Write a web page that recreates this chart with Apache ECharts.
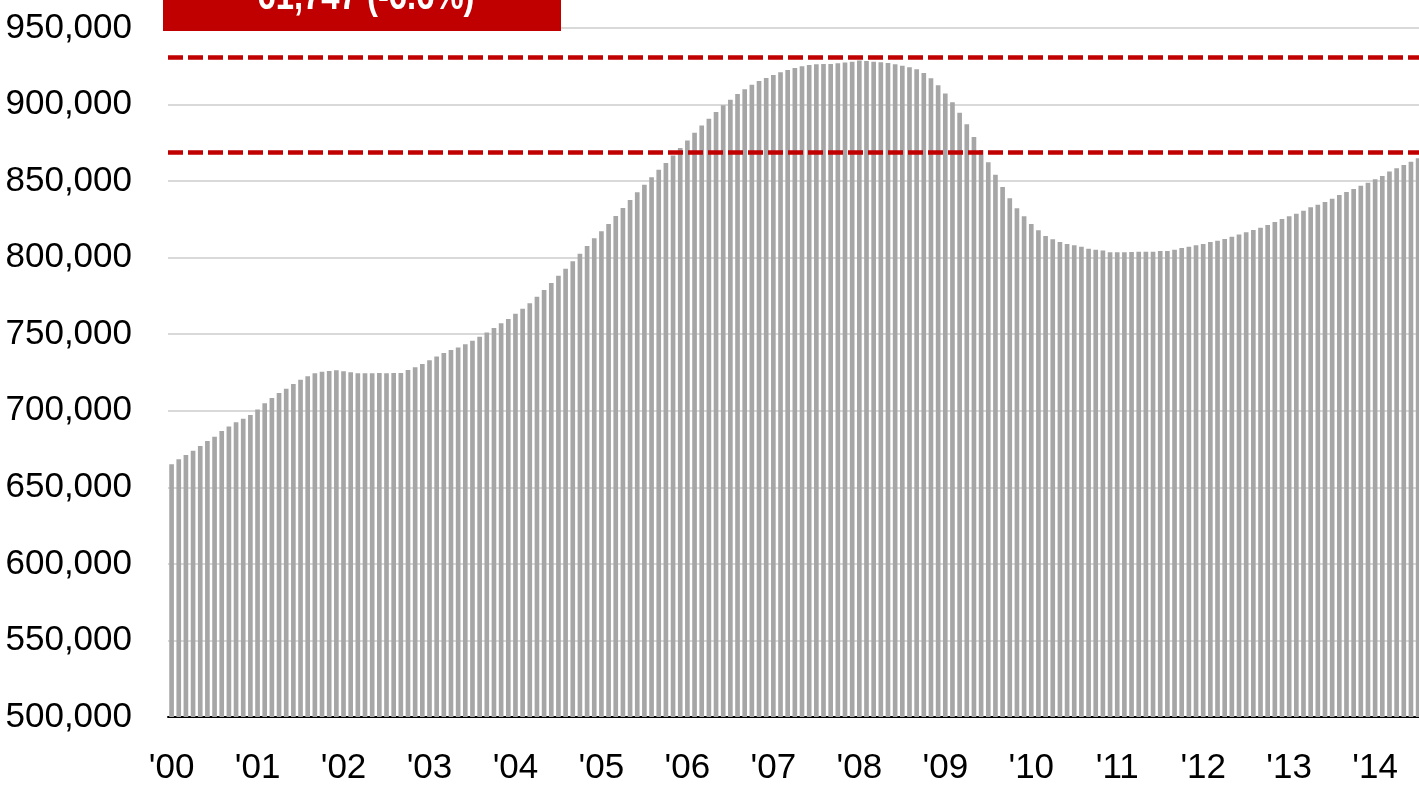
<!DOCTYPE html>
<html>
<head>
<meta charset="utf-8">
<title>Monthly bars 2000-2014</title>
<script src="https://cdn.jsdelivr.net/npm/echarts@6/dist/echarts.min.js"></script>
<style>
  html, body { margin: 0; padding: 0; background: #fff; }
  #main { width: 1419px; height: 785px; }
</style>
</head>
<body>
<div id="main"></div>
<script>
// tick labels for the category axis (one per January)
var yearLabels = ["'00", "'01", "'02", "'03", "'04", "'05", "'06", "'07", "'08", "'09", "'10", "'11", "'12", "'13", "'14"];

// monthly values (thousands)
var v2000 = [665.0, 668.3, 671.1, 673.9, 677.0, 680.3, 683.1, 686.8, 689.8, 692.5, 694.8, 697.2];
var v2001 = [700.9, 704.9, 708.3, 711.6, 714.4, 717.5, 720.3, 722.5, 724.5, 725.5, 726.0, 726.4];
var v2002 = [725.8, 725.1, 724.5, 724.5, 724.5, 724.7, 724.5, 724.7, 724.7, 726.6, 728.4, 730.5];
var v2003 = [733.0, 735.5, 737.7, 739.7, 741.4, 743.4, 745.8, 748.4, 751.2, 754.1, 757.1, 759.9];
var v2004 = [763.4, 766.7, 770.2, 774.5, 778.9, 783.5, 788.2, 792.8, 797.6, 802.6, 807.6, 812.6];
var v2005 = [817.2, 822.0, 827.2, 832.4, 837.7, 842.7, 847.7, 852.5, 857.5, 861.8, 866.8, 871.6];
var v2006 = [876.6, 881.6, 886.3, 890.8, 895.1, 899.5, 903.2, 906.9, 910.0, 913.0, 915.4, 917.3];
var v2007 = [919.3, 921.1, 922.6, 923.9, 925.0, 925.8, 926.3, 926.5, 926.5, 926.9, 927.4, 928.0];
var v2008 = [928.7, 928.4, 928.0, 927.6, 927.1, 926.3, 925.4, 924.3, 923.0, 920.6, 917.1, 912.6];
var v2009 = [907.3, 901.5, 894.7, 887.1, 878.8, 870.3, 862.3, 854.1, 846.2, 838.8, 832.2, 827.0];
var v2010 = [822.0, 817.9, 814.2, 812.0, 810.2, 808.9, 808.1, 807.2, 805.9, 805.2, 804.6, 803.5];
var v2011 = [803.5, 803.5, 803.7, 803.9, 803.9, 803.8, 804.3, 804.4, 805.2, 806.3, 807.2, 808.1];
var v2012 = [808.9, 810.2, 811.1, 812.2, 813.7, 815.2, 816.6, 818.1, 819.6, 821.3, 823.3, 825.3];
var v2013 = [827.0, 828.7, 830.7, 832.9, 834.6, 836.4, 838.5, 840.9, 842.9, 844.8, 847.0, 849.0];
var v2014 = [851.2, 853.3, 856.2, 858.4, 860.5, 862.7, 864.9];

// peak and current level (dashed lines), and the box text
var refLines = [930700, 868953];
var boxText = '61,747 (-6.6%)';

var yearly = [v2000, v2001, v2002, v2003, v2004, v2005, v2006, v2007, v2008, v2009, v2010, v2011, v2012, v2013, v2014];
var categories = [];
var values = [];
yearly.forEach(function (arr, y) {
  arr.forEach(function (v, m) {
    categories.push((2000 + y) + '-' + (m + 1));
    values.push(Math.round(v * 1000));
  });
});

// no narrow font installed, so regular Liberation Sans a bit smaller
var font = "'Liberation Sans', Arial, sans-serif";

var myChart = echarts.init(document.getElementById('main'));
myChart.setOption({
  animation: false,
  backgroundColor: '#fff',
  grid: { left: 168, top: 28, width: 1253.7, height: 689, containLabel: false, outerBoundsMode: 'none' },
  xAxis: {
    type: 'category',
    data: categories,
    axisLine: { lineStyle: { color: '#000', width: 2 } },
    axisTick: { show: false },
    axisLabel: {
      interval: function (idx) { return idx % 12 === 0; },
      formatter: function (val, idx) { return yearLabels[Math.floor(idx / 12)]; },
      color: '#000',
      fontFamily: font,
      fontSize: 35,
      margin: 34
    }
  },
  yAxis: {
    type: 'value',
    min: 500000,
    max: 950000,
    interval: 50000,
    axisLine: { show: false },
    axisTick: { show: false },
    splitLine: { lineStyle: { color: '#D9D9D9', width: 2 } },
    axisLabel: {
      formatter: function (v) { return v.toLocaleString('en-US'); },
      color: '#000',
      fontFamily: font,
      fontSize: 35,
      margin: 36
    }
  },
  series: [{
    type: 'bar',
    data: values,
    barCategoryGap: '35%',
    itemStyle: { color: '#A6A6A6' },
    markLine: {
      silent: true,
      symbol: 'none',
      label: { show: false },
      lineStyle: { color: '#C00000', width: 4.5, type: [15, 5] },
      data: refLines.map(function (v) { return { yAxis: v }; })
    }
  }],
  graphic: [{
    type: 'rect',
    z: 100,
    shape: { x: 163, y: -20, width: 398, height: 51 },
    style: { fill: '#C00000' }
  }, {
    type: 'text',
    z: 101,
    x: 366,
    y: -2,
    scaleX: 0.82,
    style: {
      text: boxText,
      fill: '#fff',
      font: 'bold 40px ' + font,
      textAlign: 'center',
      textVerticalAlign: 'middle'
    }
  }]
});
</script>
</body>
</html>
